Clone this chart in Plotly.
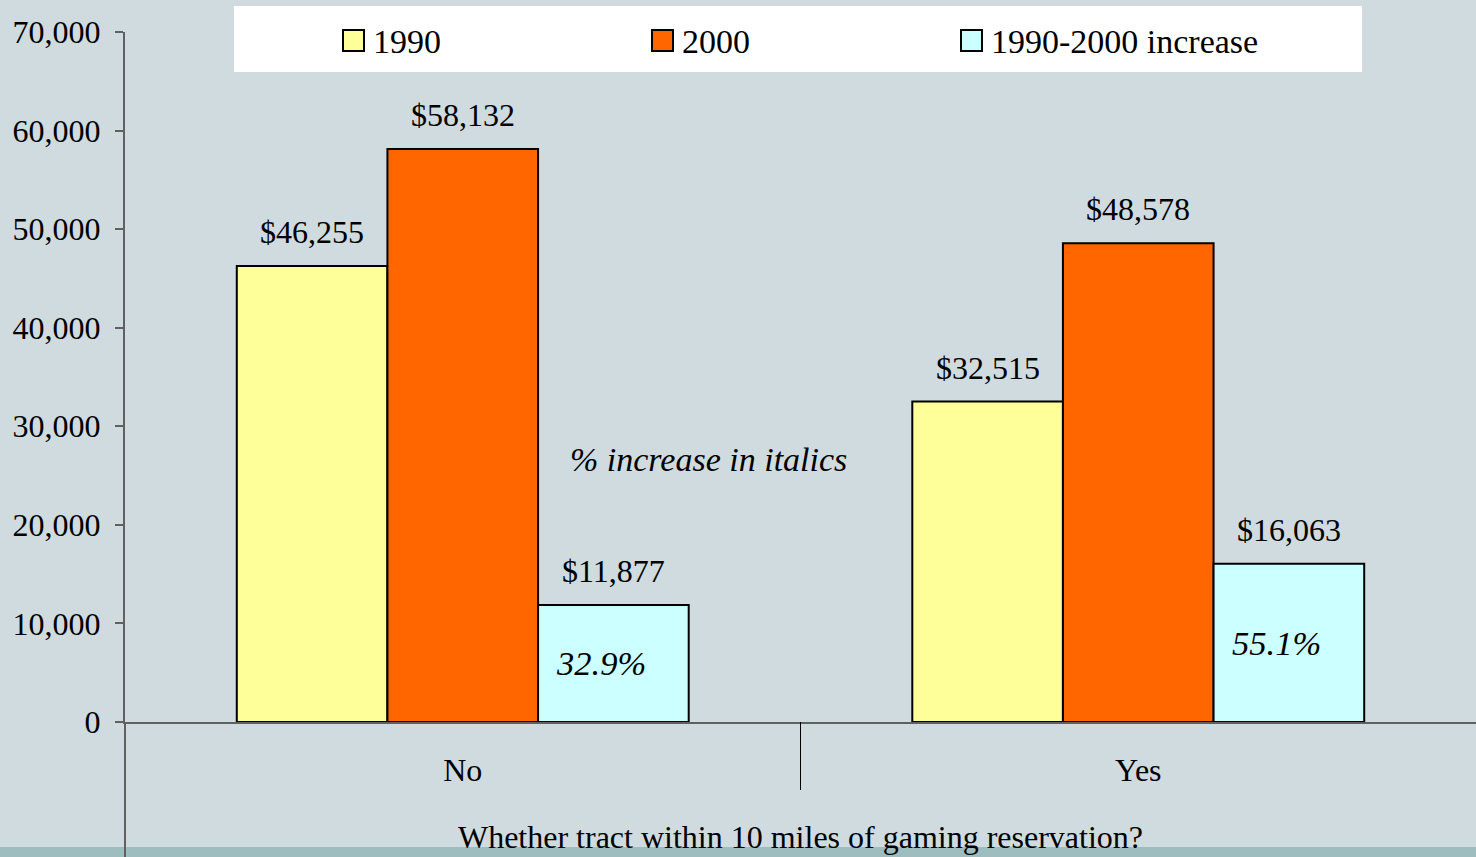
import plotly.graph_objects as go

categories = ["No", "Yes"]
series_names = ["1990", "2000", "1990-2000 increase"]
values_1990 = [46255, 32515]
values_2000 = [58132, 48578]
values_increase = [11877, 16063]
pct_increase = ["32.9%", "55.1%"]
y_ticks = [0, 10000, 20000, 30000, 40000, 50000, 60000, 70000]
axis_title = "Whether tract within 10 miles of gaming reservation?"
note_text = "% increase in italics"

colors = ["#FFFF99", "#FF6600", "#CCFFFF"]
FONT = "Liberation Serif, Times New Roman, serif"
BG = "#CFDBDF"

W, H = 1476, 857
L, R, T, B = 125, 0, 32, 135
PW, PH = W - L - R, H - T - B


def px(x):
    return (x - L) / PW


def py(y):
    return (H - B - y) / PH


bargap = 0.331
bw = (1 - bargap) / 3

fig = go.Figure()
all_vals = [values_1990, values_2000, values_increase]
for name, vals, c in zip(series_names, all_vals, colors):
    fig.add_trace(go.Bar(
        x=categories, y=vals, name=name,
        marker=dict(color=c, line=dict(color="black", width=2)),
        showlegend=False, hoverinfo="x+y+name",
    ))

annotations = []
shapes = []
# value labels
for k, vals in enumerate(all_vals):
    for i, v in enumerate(vals):
        annotations.append(dict(
            x=i + (k - 1) * bw, y=v, xref="x", yref="y",
            text="${:,}".format(v), showarrow=False,
            yanchor="middle", yshift=34,
            font=dict(family=FONT, size=32, color="black"),
        ))
# percent labels inside increase bars
for i, (v, p) in enumerate(zip(values_increase, pct_increase)):
    annotations.append(dict(
        x=i + bw, y=v / 2, xref="x", yref="y",
        text="<i>" + p + "</i>", showarrow=False, xshift=-12,
        font=dict(family=FONT, size=34.5, color="black"),
    ))
# note
annotations.append(dict(
    x=px(708), y=py(459), xref="paper", yref="paper",
    text="<i>" + note_text + "</i>", showarrow=False,
    font=dict(family=FONT, size=34, color="black"),
))

# legend box
shapes.append(dict(type="rect", xref="paper", yref="paper",
                   x0=px(234), x1=px(1362), y0=py(72), y1=py(6),
                   fillcolor="white", line=dict(width=0), layer="below"))
leg_x = [343, 652, 961]
for name, c, lx in zip(series_names, colors, leg_x):
    shapes.append(dict(type="rect", xref="paper", yref="paper",
                       x0=px(lx), x1=px(lx + 21), y0=py(51), y1=py(30),
                       fillcolor=c, line=dict(color="black", width=2)))
    annotations.append(dict(
        x=px(lx + 28), y=py(41), xref="paper", yref="paper",
        xanchor="left", yanchor="middle", text=name, showarrow=False,
        font=dict(family=FONT, size=34, color="black"),
    ))

# bottom strip
shapes.append(dict(type="rect", xref="paper", yref="paper",
                   x0=px(0), x1=px(W), y0=py(H), y1=py(847),
                   fillcolor="#9DBDBE", line=dict(width=0), layer="below"))
# y axis extension below zero
shapes.append(dict(type="line", xref="paper", yref="paper",
                   x0=0, x1=0, y0=py(H), y1=0,
                   line=dict(color="#606060", width=2)))
# category divider
shapes.append(dict(type="line", xref="x", yref="paper",
                   x0=0.5, x1=0.5, y0=0, y1=py(790),
                   line=dict(color="black", width=1)))

fig.update_layout(
    width=W, height=H,
    margin=dict(l=L, r=R, t=T, b=B, pad=0),
    paper_bgcolor=BG, plot_bgcolor=BG,
    barmode="group", bargap=bargap, bargroupgap=0,
    font=dict(family=FONT, size=32, color="black"),
    annotations=annotations, shapes=shapes,
    xaxis=dict(
        type="category", showline=True, linecolor="#606060", linewidth=2,
        ticks="", showgrid=False, zeroline=False,
        tickfont=dict(family=FONT, size=32, color="black"),
        ticklabelstandoff=19,
        title=dict(text=axis_title, standoff=38,
                   font=dict(family=FONT, size=32, color="black")),
        automargin=False,
    ),
    yaxis=dict(
        range=[0, 70000], tickvals=y_ticks,
        ticktext=["{:,}".format(t) for t in y_ticks],
        showline=True, linecolor="#606060", linewidth=2,
        ticks="outside", ticklen=8, tickcolor="#606060", tickwidth=2,
        showgrid=False, zeroline=False,
        tickfont=dict(family=FONT, size=32, color="black"),
        ticklabelstandoff=8, automargin=False,
    ),
)

fig.write_html("out.html")
